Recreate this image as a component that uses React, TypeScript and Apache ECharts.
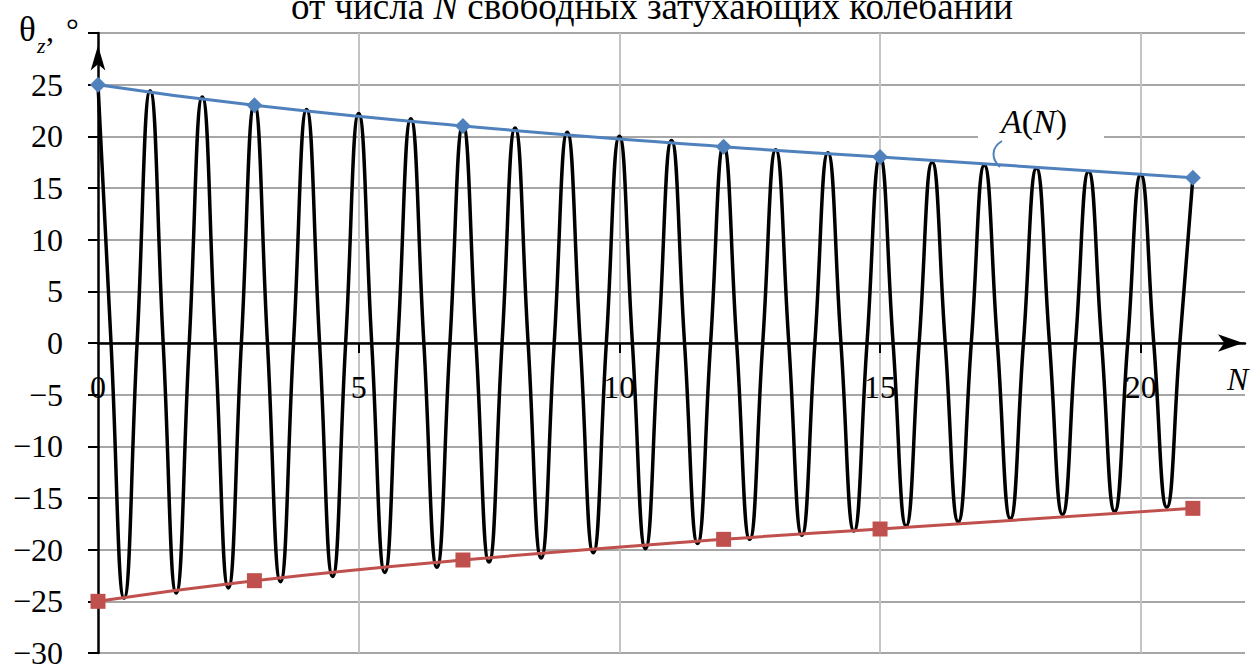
import React, { useEffect, useRef } from "react";
import * as echarts from "echarts";

// Oscillation: peak values at integer N, trough values at N + 0.5
const peakN = [0, 1, 2, 3, 4, 5, 6, 7, 8, 9, 10, 11, 12, 13, 14, 15, 16, 17, 18, 19, 20, 21];
const peakValues = [25, 24.4, 23.8, 23.1, 22.6, 22.2, 21.7, 21.1, 20.8, 20.4, 20.0, 19.6, 19.1, 18.7, 18.4, 18.0, 17.5, 17.2, 16.9, 16.6, 16.3, 16.0];
const troughValues = [-24.7, -24.2, -23.7, -23.1, -22.6, -22.2, -21.7, -21.2, -20.8, -20.3, -19.9, -19.4, -19.0, -18.6, -18.2, -17.7, -17.3, -17.0, -16.6, -16.3, -15.9];

// Envelope A(N)
const envelopeN = [0, 3, 7, 12, 15, 21];
const upperEnvelope = [25, 23, 21, 19, 18, 16];
const lowerEnvelope = [-25, -23, -21, -19, -18, -16];

// Axis ticks / labels
const xLabelValues = [0, 5, 10, 15, 20];
const xTickValues = [5, 10, 15, 20];
const yLabelValues = [-30, -25, -20, -15, -10, -5, 0, 5, 10, 15, 20, 25];

const SERIF = "Liberation Serif";

function buildOscillation(): number[][] {
  const pts: number[][] = [];
  for (let i = 0; i < troughValues.length; i++) {
    const n = peakN[i];
    pts.push([n, peakValues[i]]);
    pts.push([n + 0.25, 0]);
    pts.push([n + 0.5, troughValues[i]]);
    pts.push([n + 0.75, 0]);
  }
  const last = peakN.length - 1;
  pts.push([peakN[last], peakValues[last]]);
  return pts;
}

export default function App() {
  const ref = useRef<HTMLDivElement>(null);

  useEffect(() => {
    if (!ref.current) return;
    const chart = echarts.init(ref.current, undefined, { renderer: "svg" });
    const fmt = (v: number) => (v < 0 ? "\u2212" + Math.abs(v) : String(v));

    const GRID_TOP = 33;
    const GRID_BOTTOM = 13;
    const plotH = 666 - GRID_TOP - GRID_BOTTOM;
    const zeroOffset = plotH / 2;

    chart.setOption({
      animation: false,
      backgroundColor: "#fff",
      textStyle: { fontFamily: SERIF },
      grid: {
        left: 98,
        right: 8,
        top: GRID_TOP,
        bottom: GRID_BOTTOM,
        containLabel: false,
        outerBoundsMode: "none",
      },
      xAxis: [
        {
          type: "value",
          min: 0,
          max: 22,
          interval: 1,
          axisLine: {
            onZero: true,
            lineStyle: { color: "#000", width: 2.5 },
            symbol: ["none", "arrow"],
            symbolSize: [13, 25],
            symbolOffset: [0, -2],
          },
          axisTick: {
            show: true,
            customValues: xTickValues,
            length: 10,
            lineStyle: { color: "#000", width: 2 },
          },
          axisLabel: { show: false },
          splitLine: { show: true, lineStyle: { color: "#c4c4c4", width: 2 } },
        },
        {
          type: "value",
          position: "bottom",
          offset: -zeroOffset,
          min: 0,
          max: 22,
          interval: 1,
          axisLine: { show: false, onZero: false },
          axisTick: { show: false },
          splitLine: { show: false },
          axisLabel: {
            customValues: xLabelValues,
            formatter: fmt,
            margin: 28,
            fontSize: 32,
            fontFamily: SERIF,
            color: "#000",
          },
        },
      ],
      yAxis: {
        type: "value",
        min: -30,
        max: 30,
        interval: 5,
        axisLine: {
          show: true,
          onZero: false,
          lineStyle: { color: "#000", width: 2.5 },
          symbol: ["none", "arrow"],
          symbolSize: [11, 25],
          symbolOffset: [0, -12.5],
        },
        axisTick: {
          show: true,
          length: 10,
          lineStyle: { color: "#000", width: 2 },
        },
        axisLabel: {
          customValues: yLabelValues,
          formatter: fmt,
          margin: 35,
          fontSize: 32,
          fontFamily: SERIF,
          color: "#000",
        },
        splitLine: { show: true, lineStyle: { color: "#a6a6a6", width: 2 } },
      },
      series: [
        {
          name: "theta",
          type: "line",
          xAxisIndex: 0,
          data: buildOscillation(),
          smooth: true,
          symbol: "none",
          lineStyle: { color: "#000", width: 3.5 },
          z: 2,
        },
        {
          name: "A+",
          type: "line",
          xAxisIndex: 0,
          data: envelopeN.map((n, i) => [n, upperEnvelope[i]]),
          smooth: true,
          symbol: "diamond",
          symbolSize: 16,
          itemStyle: { color: "#4F81BD" },
          lineStyle: { color: "#4F81BD", width: 3 },
          z: 3,
        },
        {
          name: "A-",
          type: "line",
          xAxisIndex: 0,
          data: envelopeN.map((n, i) => [n, lowerEnvelope[i]]),
          smooth: true,
          symbol: "rect",
          symbolSize: 15,
          itemStyle: { color: "#C0504D" },
          lineStyle: { color: "#C0504D", width: 3 },
          z: 3,
        },
      ],
      graphic: [
        {
          type: "text",
          x: 652,
          y: 6.5,
          z: 10,
          style: {
            text: "{a|от числа }{n|N}{a| свободных затухающих колебаний}",
            textAlign: "center",
            textVerticalAlign: "middle",
            fill: "#000",
            font: "37px " + SERIF,
            rich: {
              a: { fontSize: 37, fontFamily: SERIF, fill: "#000" },
              n: { fontSize: 37, fontFamily: SERIF, fontStyle: "italic", fill: "#000" },
            },
          },
        },
        {
          type: "text",
          x: 19,
          y: 29,
          z: 10,
          style: { text: "θ", font: "35px " + SERIF, fill: "#000", textAlign: "left", textVerticalAlign: "middle" },
        },
        {
          type: "text",
          x: 37,
          y: 45,
          z: 10,
          style: { text: "z", font: "italic 22px " + SERIF, fill: "#000", textAlign: "left", textVerticalAlign: "middle" },
        },
        {
          type: "text",
          x: 46,
          y: 30,
          z: 10,
          style: { text: ",", font: "32px " + SERIF, fill: "#000", textAlign: "left", textVerticalAlign: "middle" },
        },
        {
          type: "text",
          x: 66,
          y: 30,
          z: 10,
          style: { text: "°", font: "32px " + SERIF, fill: "#000", textAlign: "left", textVerticalAlign: "middle" },
        },
        {
          type: "text",
          x: 1227,
          y: 379,
          z: 10,
          style: { text: "N", font: "italic 32px " + SERIF, fill: "#000", textAlign: "left", textVerticalAlign: "middle" },
        },
        {
          type: "rect",
          z: 10,
          shape: { x: 978, y: 88, width: 126, height: 64 },
          style: { fill: "#fff" },
        },
        {
          type: "text",
          x: 1034,
          y: 121,
          z: 11,
          style: {
            text: "{i|A}{u|(}{i|N}{u|)}",
            textAlign: "center",
            textVerticalAlign: "middle",
            fill: "#000",
            font: "33px " + SERIF,
            rich: {
              i: { fontSize: 34, fontFamily: SERIF, fontStyle: "italic", fill: "#000" },
              u: { fontSize: 34, fontFamily: SERIF, fill: "#000" },
            },
          },
        },
        {
          type: "bezierCurve",
          z: 11,
          shape: { x1: 1002, y1: 141, cpx1: 990, cpy1: 148, cpx2: 992, cpy2: 160, x2: 1000, y2: 167 },
          style: { stroke: "#4F81BD", lineWidth: 2, fill: "none" },
        },
      ],
    });

    return () => chart.dispose();
  }, []);

  return (
    <div
      ref={ref}
      style={{ position: "fixed", left: 0, top: 0, width: 1253, height: 666, background: "#fff" }}
    />
  );
}
